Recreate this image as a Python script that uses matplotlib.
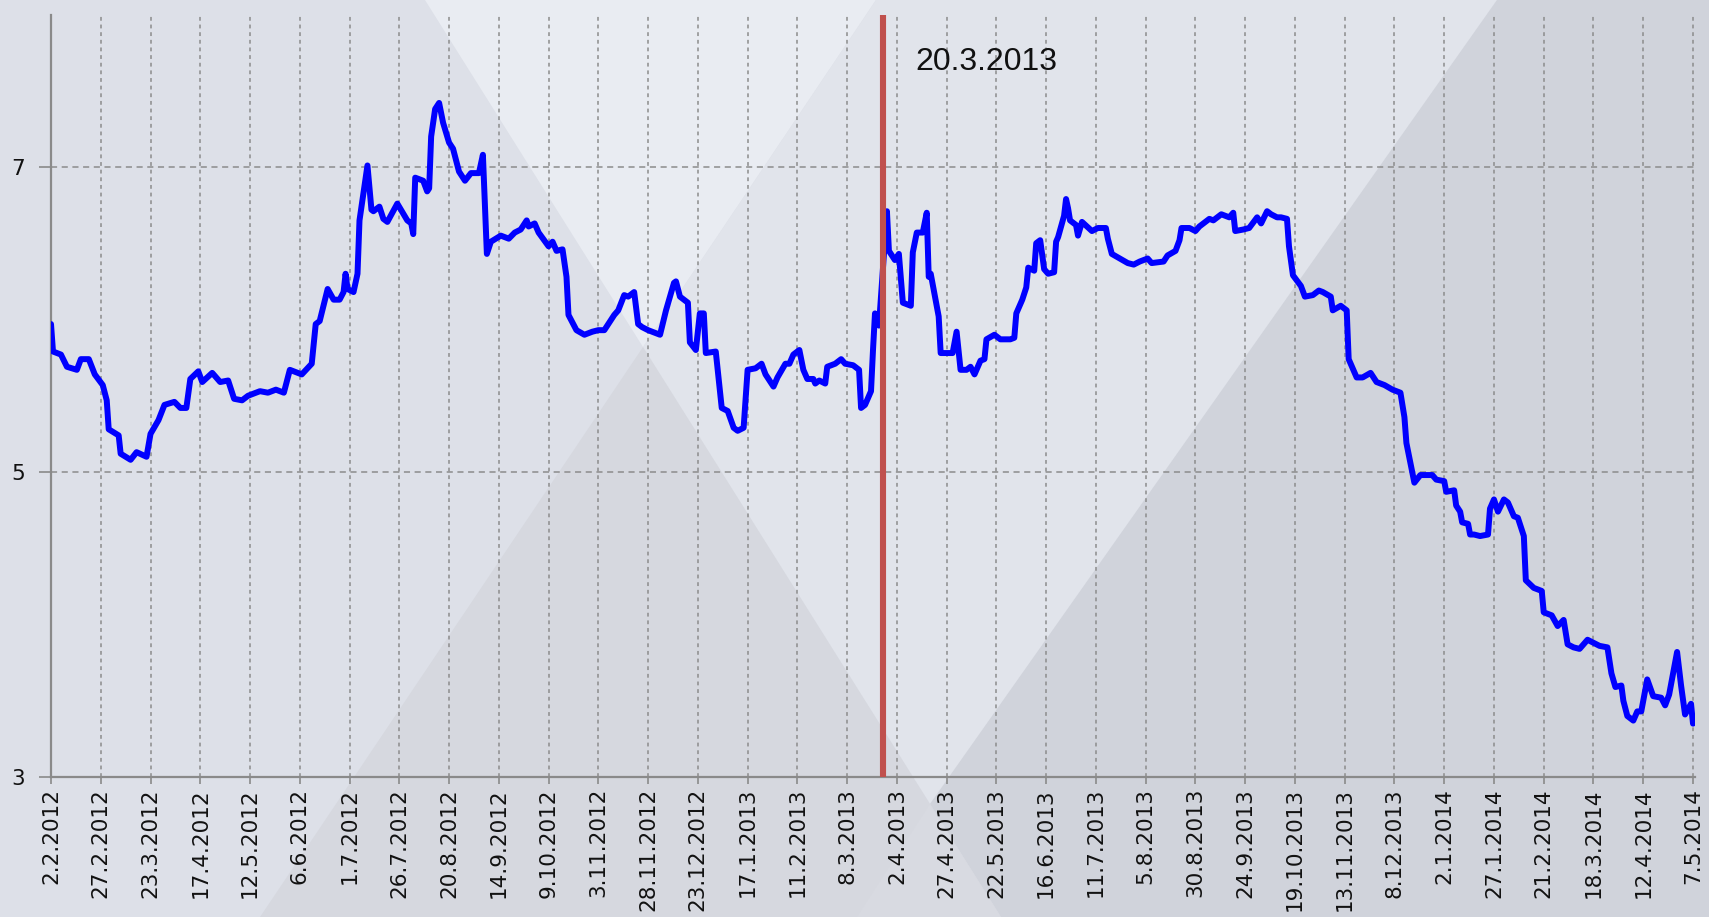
import numpy as np
import matplotlib
matplotlib.use('Agg')
import matplotlib.pyplot as plt
from matplotlib.patches import Polygon

# days since 2.2.2012 and the value on that day
days = [0, 1, 5, 8, 13, 15, 19, 22, 26, 28, 29, 34, 35, 40, 43, 48, 50, 54, 57, 62,
        65, 68, 70, 74, 76, 81, 85, 89, 92, 96, 99, 105, 109, 113, 117, 120, 126, 131, 133, 135,
        139, 142, 145, 147, 148, 149, 152, 154, 155, 159, 161, 162, 165, 167, 169, 174, 179, 181, 182, 183,
        187, 189, 190, 191, 193, 195, 197, 200, 202, 205, 208, 211, 215, 217, 219, 221, 226, 230, 233, 236,
        239, 240, 243, 245, 250, 252, 254, 257, 259, 260, 264, 268, 272, 275, 278, 283, 285, 288, 290, 293,
        295, 297, 300, 302, 306, 309, 313, 314, 316, 318, 320, 321, 324, 326, 328, 329, 334, 337, 340, 343,
        345, 348, 350, 354, 357, 359, 363, 365, 369, 371, 373, 376, 378, 380, 383, 384, 386, 389, 390, 394,
        397, 399, 403, 406, 407, 409, 412, 413, 414, 416, 420, 421, 424, 426, 428, 432, 433, 435, 438, 440,
        441, 442, 446, 447, 453, 455, 457, 460, 462, 464, 467, 469, 470, 474, 477, 482, 484, 485, 488, 490,
        491, 494, 495, 497, 499, 501, 504, 505, 506, 509, 510, 511, 512, 515, 516, 518, 523, 526, 530, 531,
        533, 537, 541, 544, 547, 551, 553, 559, 561, 565, 567, 568, 572, 575, 577, 582, 584, 588, 592, 594,
        595, 599, 602, 606, 608, 611, 613, 616, 618, 621, 622, 624, 628, 630, 634, 637, 639, 643, 644, 648,
        651, 652, 656, 659, 663, 666, 670, 674, 678, 680, 681, 685, 688, 694, 696, 700, 701, 705, 706, 708,
        709, 712, 713, 715, 718, 722, 723, 725, 727, 730, 732, 735, 737, 740, 741, 745, 749, 750, 754, 757,
        760, 762, 765, 768, 772, 775, 778, 782, 784, 786, 789, 790, 792, 795, 797, 799, 802, 805, 809, 811,
        813, 817, 819, 821, 824, 825]
values = [5.97, 5.79, 5.77, 5.69, 5.67, 5.74, 5.74, 5.64, 5.57, 5.47, 5.28, 5.24, 5.12, 5.08, 5.13, 5.10, 5.25, 5.34, 5.44, 5.46,
          5.42, 5.42, 5.61, 5.66, 5.59, 5.65, 5.59, 5.60, 5.48, 5.47, 5.50, 5.53, 5.52, 5.54, 5.52, 5.67, 5.64, 5.71, 5.97, 5.99,
          6.20, 6.13, 6.13, 6.18, 6.30, 6.20, 6.18, 6.30, 6.65, 7.01, 6.72, 6.71, 6.74, 6.66, 6.64, 6.76, 6.65, 6.63, 6.56, 6.93,
          6.91, 6.84, 6.86, 7.20, 7.38, 7.42, 7.29, 7.16, 7.12, 6.97, 6.91, 6.96, 6.96, 7.08, 6.43, 6.51, 6.55, 6.53, 6.57, 6.59,
          6.65, 6.61, 6.63, 6.57, 6.48, 6.51, 6.45, 6.46, 6.28, 6.03, 5.93, 5.90, 5.92, 5.93, 5.93, 6.03, 6.06, 6.16, 6.15, 6.18,
          5.97, 5.95, 5.93, 5.92, 5.90, 6.06, 6.24, 6.25, 6.15, 6.13, 6.11, 5.85, 5.80, 6.04, 6.04, 5.78, 5.79, 5.42, 5.40, 5.29,
          5.27, 5.29, 5.67, 5.68, 5.71, 5.64, 5.56, 5.62, 5.71, 5.71, 5.77, 5.80, 5.67, 5.61, 5.61, 5.58, 5.60, 5.58, 5.69, 5.71,
          5.74, 5.71, 5.70, 5.67, 5.42, 5.44, 5.53, 5.80, 6.04, 5.96, 6.71, 6.45, 6.39, 6.43, 6.11, 6.09, 6.44, 6.57, 6.57, 6.70,
          6.28, 6.30, 6.02, 5.78, 5.78, 5.92, 5.67, 5.67, 5.69, 5.64, 5.73, 5.74, 5.87, 5.90, 5.87, 5.87, 5.88, 6.04, 6.13, 6.21,
          6.34, 6.32, 6.50, 6.52, 6.33, 6.30, 6.31, 6.51, 6.54, 6.68, 6.79, 6.73, 6.65, 6.62, 6.55, 6.64, 6.58, 6.60, 6.60, 6.53,
          6.43, 6.40, 6.37, 6.36, 6.38, 6.40, 6.37, 6.38, 6.42, 6.45, 6.52, 6.60, 6.60, 6.58, 6.61, 6.66, 6.65, 6.69, 6.67, 6.70,
          6.58, 6.59, 6.60, 6.67, 6.63, 6.71, 6.69, 6.67, 6.67, 6.66, 6.48, 6.29, 6.22, 6.15, 6.16, 6.19, 6.18, 6.15, 6.06, 6.09,
          6.06, 5.74, 5.62, 5.62, 5.65, 5.59, 5.57, 5.54, 5.52, 5.36, 5.19, 4.93, 4.98, 4.98, 4.95, 4.94, 4.87, 4.88, 4.78, 4.74,
          4.67, 4.66, 4.59, 4.59, 4.58, 4.59, 4.76, 4.82, 4.74, 4.82, 4.80, 4.71, 4.70, 4.58, 4.29, 4.24, 4.22, 4.08, 4.06, 3.99,
          4.03, 3.87, 3.85, 3.84, 3.90, 3.88, 3.86, 3.85, 3.68, 3.59, 3.60, 3.50, 3.40, 3.37, 3.43, 3.43, 3.64, 3.53, 3.52, 3.47,
          3.54, 3.82, 3.60, 3.41, 3.48, 3.35]

# x ticks every 25 days
tickDays = list(range(0, 826, 25))
tickLabels = ['2.2.2012', '27.2.2012', '23.3.2012', '17.4.2012', '12.5.2012', '6.6.2012',
              '1.7.2012', '26.7.2012', '20.8.2012', '14.9.2012', '9.10.2012', '3.11.2012',
              '28.11.2012', '23.12.2012', '17.1.2013', '11.2.2013', '8.3.2013', '2.4.2013',
              '27.4.2013', '22.5.2013', '16.6.2013', '11.7.2013', '5.8.2013', '30.8.2013',
              '24.9.2013', '19.10.2013', '13.11.2013', '8.12.2013', '2.1.2014', '27.1.2014',
              '21.2.2014', '18.3.2014', '12.4.2014', '7.5.2014']
yTicks = [3, 5, 7]

# marker line (drawn where it sits in the picture) and its label
eventDay = 418
eventLabel = '20.3.2013'

W, H = 1709, 917


def px(points):
    # pixel coords (top-left origin) -> figure fraction
    return [(x / W, 1 - y / H) for x, y in points]


def drawBackground(fig):
    fig.patch.set_facecolor('#dde0e8')
    shapes = [
        ([(425, 0), (876, 0), (643, 347)], '#e9ecf2'),
        ([(876, 0), (1497, 0), (930, 804), (643, 347)], '#e1e4eb'),
        ([(260, 917), (1001, 917), (643, 347)], '#d6d8df'),
        ([(1497, 0), (1709, 0), (1709, 917), (1001, 917), (930, 804)], '#d0d3db'),
        ([(930, 804), (1001, 917), (857, 917)], '#d8dae1'),
    ]
    for pts, col in shapes:
        fig.patches.append(Polygon(px(pts), closed=True, transform=fig.transFigure,
                                   facecolor=col, edgecolor='none', zorder=-10))


def main():
    fig = plt.figure(figsize=(W / 100, H / 100), dpi=100)
    drawBackground(fig)
    ax = fig.add_axes([51 / W, 1 - 777 / H, (1695 - 51) / W, (777 - 14.5) / H])
    ax.set_facecolor('none')

    ax.plot(days, values, color='#0000ff', lw=4.3, solid_joinstyle='round',
            solid_capstyle='round', zorder=3)
    ax.axvline(eventDay, color='#c0504d', lw=4.4, zorder=4)
    ax.annotate(eventLabel, xy=(eventDay, 1), xycoords=('data', 'axes fraction'),
                xytext=(32, -48), textcoords='offset pixels', ha='left', va='center',
                fontsize=23, family='Liberation Sans', color='#111111')

    ax.set_xlim(0, 826)
    ax.set_ylim(3, 8)
    ax.set_xticks(tickDays)
    ax.set_xticklabels(tickLabels, rotation=90, fontsize=15.5, color='#111111')
    ax.set_yticks(yTicks)
    ax.set_yticklabels([str(t) for t in yTicks], fontsize=15.5, color='#111111')

    ax.tick_params(axis='x', length=5, width=1.2, color='#8a8a8a', pad=3)
    ax.tick_params(axis='y', length=9, width=1.2, color='#8a8a8a', pad=10)

    ax.xaxis.grid(True, color='#8c8c8c', lw=1.1, dashes=(2.5, 2.5))
    ax.yaxis.grid(True, color='#8c8c8c', lw=1.1, dashes=(4, 3))
    ax.set_axisbelow(True)

    for side in ['top', 'right']:
        ax.spines[side].set_visible(False)
    for side in ['left', 'bottom']:
        ax.spines[side].set_color('#8a8a8a')
        ax.spines[side].set_linewidth(1.6)

    fig.savefig('out.png', dpi=100, facecolor=fig.get_facecolor())


if __name__ == "__main__":
    main()
